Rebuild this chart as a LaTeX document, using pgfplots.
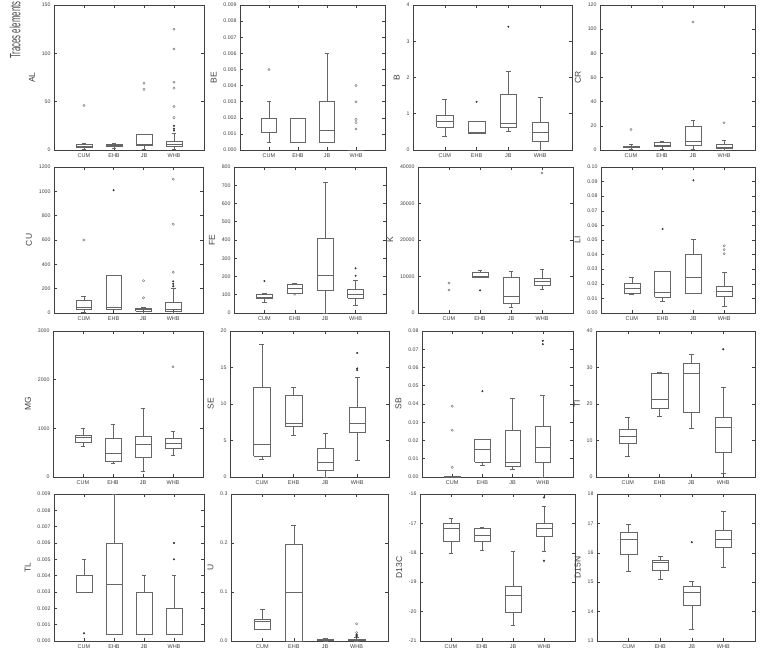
\documentclass[border=0pt]{standalone}
\usepackage{pgfplots}
\pgfplotsset{compat=1.18}
\usepackage{fontspec}
\setmainfont{Liberation Sans}
\definecolor{boxc}{gray}{0.4}
\definecolor{axc}{gray}{0.25}
\pgfplotsset{
  panel/.style={
    scale only axis, anchor=south west,
    xmin=0, xmax=5, xtick={1,2,3,4}, xticklabels={CUM,EHB,JB,WHB},
    axis line style={axc, line width=0.6pt},
    tick style={axc, line width=0.5pt},
    major tick length=3pt,
    tick align=inside,
    xticklabel style={font=\fontsize{5.5}{5.5}\selectfont, text=axc},
    yticklabel style={font=\fontsize{5.2}{5.2}\selectfont, text=axc},
    ylabel style={font=\fontsize{8.5}{8.5}\selectfont, text=axc},
    /pgf/number format/assume math mode=true,
    /pgf/number format/1000 sep={},
    scaled y ticks=false,
    clip=false,
  },
  boxst/.style={draw=boxc, line width=0.45pt, solid, mark=none},
  oo/.style={only marks, mark=o, mark size=1.15pt, mark options={draw=boxc, line width=0.35pt}},
  ss/.style={only marks, mark=*, mark size=0.8pt, mark options={fill=black!80, draw=black!80}},
}
% #1 position, #2 lower whisker, #3 lower quartile, #4 median, #5 upper quartile, #6 upper whisker
\newcommand\bp[6]{%
\pgfmathsetmacro\xa{#1-0.26}\pgfmathsetmacro\xb{#1+0.26}%
\pgfmathsetmacro\ca{#1-0.08}\pgfmathsetmacro\cb{#1+0.08}%
\addplot[boxst] coordinates {(\xa,#3) (\xb,#3) (\xb,#5) (\xa,#5) (\xa,#3)};
\addplot[boxst] coordinates {(\xa,#4) (\xb,#4)};
\addplot[boxst] coordinates {(#1,#3) (#1,#2)};
\addplot[boxst] coordinates {(#1,#5) (#1,#6)};
\addplot[boxst] coordinates {(\ca,#2) (\cb,#2)};
\addplot[boxst] coordinates {(\ca,#6) (\cb,#6)};
}
\begin{document}
\begin{tikzpicture}[x=1pt,y=1pt]
\useasboundingbox (0,0) rectangle (765,663);
\node[rotate=90, anchor=west, inner sep=0, text=black!70] at (15,604) {\scalebox{0.52}[1]{\fontsize{15}{15}\selectfont Traces elements}};
% ---------- Row 1 ----------
\begin{axis}[panel, at={(54pt,513pt)}, width=150pt, height=145pt, ymin=0, ymax=150, ytick={0,50,100,150}, ylabel={AL}]
\bp{1}{1}{3}{4}{5.5}{7}
\bp{2}{2}{3.5}{5}{6.2}{7}
\bp{3}{1}{4.8}{6}{16}{16}
\bp{4}{0.5}{4}{6}{9}{17}
\addplot[oo] coordinates {(1,46) (3,62.7) (3,69) (4,33.5) (4,45) (4,64) (4,70) (4,104.5) (4,125)};
\addplot[ss] coordinates {(4,20) (4,22) (4,25)};
\end{axis}
% BE values plotted in units of 0.001
\begin{axis}[panel, at={(240pt,513pt)}, width=145pt, height=145pt, ymin=0, ymax=9, ytick={0,1,2,3,4,5,6,7,8,9}, yticklabels={0.000,0.001,0.002,0.003,0.004,0.005,0.006,0.007,0.008,0.009}, ylabel={BE}]
\bp{1}{0.5}{1.1}{1.1}{2}{3}
\bp{2}{0.5}{0.5}{2}{2}{2}
\bp{3}{0.5}{0.5}{1.25}{3}{6}
\bp{4}{0}{0}{0}{0}{0}
\addplot[oo] coordinates {(1,5) (4,4) (4,3) (4,1.9) (4,1.7) (4,1.3)};
\end{axis}
\begin{axis}[panel, at={(413pt,513pt)}, width=159pt, height=145pt, ymin=0, ymax=4, ytick={0,1,2,3,4}, ylabel={B}]
\bp{1}{0.39}{0.63}{0.8}{0.97}{1.4}
\bp{2}{0.45}{0.47}{0.48}{0.78}{0.78}
\bp{3}{0.52}{0.62}{0.75}{1.53}{2.18}
\bp{4}{0}{0.25}{0.5}{0.77}{1.45}
\addplot[ss] coordinates {(2,1.33) (3,3.4)};
\end{axis}
\begin{axis}[panel, at={(600pt,513pt)}, width=155pt, height=145pt, ymin=0, ymax=120, ytick={0,20,40,60,80,100,120}, ylabel={CR}]
\bp{1}{1}{2}{3}{3}{5}
\bp{2}{0.5}{3.3}{4}{6.6}{7.4}
\bp{3}{1}{4}{7}{20}{25}
\bp{4}{0}{1.4}{2.5}{4.4}{8.3}
\addplot[oo] coordinates {(1,17) (3,106) (4,22.6)};
\end{axis}
% ---------- Row 2 ----------
\begin{axis}[panel, at={(54pt,350pt)}, width=149pt, height=146pt, ymin=0, ymax=1200, ytick={0,200,400,600,800,1000,1200}, ylabel={CU}]
\bp{1}{5}{35}{50}{104}{136}
\bp{2}{30}{35}{46}{314}{314}
\bp{3}{0}{14}{27}{41}{50}
\bp{4}{0}{14}{33}{87}{205}
\addplot[oo] coordinates {(1,600) (3,265) (3,125) (4,335) (4,730) (4,1099)};
\addplot[ss] coordinates {(2,1009) (4,220) (4,240) (4,260)};
\end{axis}
\begin{axis}[panel, at={(234pt,350pt)}, width=152pt, height=146pt, ymin=0, ymax=800, ytick={0,100,200,300,400,500,600,700,800}, ylabel={FE}]
\bp{1}{57}{79}{88}{101}{107}
\bp{2}{110}{110}{134}{158}{164}
\bp{3}{0}{127}{208}{408}{717}
\bp{4}{42}{83}{103}{130}{180}
\addplot[oo] coordinates {(2,103)};
\addplot[ss] coordinates {(1,175) (4,204) (4,245)};
\end{axis}
\begin{axis}[panel, at={(418pt,350pt)}, width=155pt, height=146pt, ymin=0, ymax=40000, ytick={0,10000,20000,30000,40000}, ylabel={K}]
\bp{2}{9770}{9770}{10050}{11140}{11600}
\bp{3}{1460}{2740}{4570}{9770}{11400}
\bp{4}{6390}{7490}{8580}{9590}{11870}
\addplot[oo] coordinates {(1,8220) (1,6300) (4,38350)};
\addplot[ss] coordinates {(2,6210)};
\end{axis}
% LI values plotted in units of 0.01
\begin{axis}[panel, at={(601pt,350pt)}, width=154pt, height=146pt, ymin=0, ymax=10, ytick={0,1,2,3,4,5,6,7,8,9,10}, yticklabels={0.00,0.01,0.02,0.03,0.04,0.05,0.06,0.07,0.08,0.09,0.10}, ylabel={LI}]
\bp{1}{1.3}{1.37}{1.69}{2.05}{2.47}
\bp{2}{0.8}{1.07}{1.44}{2.85}{2.85}
\bp{3}{1.32}{1.32}{2.44}{4.04}{5.07}
\bp{4}{0.46}{1.14}{1.46}{1.83}{2.8}
\addplot[oo] coordinates {(4,4.6) (4,4.34) (4,4.06)};
\addplot[ss] coordinates {(2,5.75) (3,9.09)};
\end{axis}
% ---------- Row 3 ----------
\begin{axis}[panel, at={(53pt,186pt)}, width=150pt, height=146pt, ymin=0, ymax=3000, ytick={0,1000,2000,3000}, ylabel={MG}]
\bp{1}{638}{720}{810}{858}{1002}
\bp{2}{288}{330}{494}{790}{1078}
\bp{3}{124}{412}{673}{837}{1407}
\bp{4}{446}{597}{700}{790}{947}
\addplot[oo] coordinates {(4,2265)};
\end{axis}
\begin{axis}[panel, at={(230pt,186pt)}, width=159pt, height=146pt, ymin=0, ymax=20, ytick={0,5,10,15,20}, ylabel={SE}]
\bp{1}{2.47}{2.84}{4.48}{12.36}{18.2}
\bp{2}{5.67}{6.96}{7.32}{11.2}{12.27}
\bp{3}{0}{0.92}{1.97}{3.98}{6.04}
\bp{4}{2.24}{6.18}{7.41}{9.52}{13.73}
\addplot[ss] coordinates {(4,14.65) (4,14.87) (4,17.0)};
\end{axis}
% SB values plotted in units of 0.01
\begin{axis}[panel, at={(422pt,186pt)}, width=151pt, height=146pt, ymin=0, ymax=8, ytick={0,1,2,3,4,5,6,7,8}, yticklabels={0.00,0.01,0.02,0.03,0.04,0.05,0.06,0.07,0.08}, ylabel={SB}]
\bp{1}{0}{0}{0}{0.05}{0.05}
\bp{2}{0.66}{0.83}{1.53}{2.08}{2.08}
\bp{3}{0.42}{0.57}{0.83}{2.57}{4.32}
\bp{4}{0}{0.83}{1.62}{2.76}{4.5}
\addplot[oo] coordinates {(1,0.53) (1,2.56) (1,3.88)};
\addplot[ss] coordinates {(2,4.7) (4,7.28) (4,7.46)};
\end{axis}
\begin{axis}[panel, at={(596pt,186pt)}, width=159pt, height=146pt, ymin=0, ymax=40, ytick={0,10,20,30,40}, ylabel={TI}]
\bp{1}{5.7}{9.15}{11.3}{13.1}{16.5}
\bp{2}{16.7}{18.75}{21.4}{28.4}{28.8}
\bp{3}{13.3}{17.75}{28.5}{31.1}{33.5}
\bp{4}{1.1}{6.9}{13.7}{16.5}{24.7}
\addplot[ss] coordinates {(4,35)};
\end{axis}
% ---------- Row 4 ----------
% TL values plotted in units of 0.001
\begin{axis}[panel, at={(54pt,22pt)}, width=150pt, height=147pt, ymin=0, ymax=9, ytick={0,1,2,3,4,5,6,7,8,9}, yticklabels={0.000,0.001,0.002,0.003,0.004,0.005,0.006,0.007,0.008,0.009}, ylabel={TL}]
\bp{1}{3}{3}{3}{4}{5}
\bp{2}{0.4}{0.4}{3.5}{6}{9}
\bp{3}{0.4}{0.4}{0.4}{3}{4}
\bp{4}{0.4}{0.4}{0.4}{2}{4}
\addplot[ss] coordinates {(1,0.47) (4,5) (4,6)};
\end{axis}
% U values plotted in units of 0.01
\begin{axis}[panel, at={(231pt,22pt)}, width=157pt, height=147pt, ymin=0, ymax=30, ytick={0,10,20,30}, yticklabels={0.0,0.1,0.2,0.3}, ylabel={U}]
\bp{1}{2.45}{2.45}{4.1}{4.43}{6.5}
\bp{2}{0}{0}{9.9}{19.8}{23.6}
\bp{3}{0}{0.1}{0.2}{0.3}{0.5}
\bp{4}{0}{0.1}{0.2}{0.4}{0.7}
\addplot[oo] coordinates {(4,1.7) (4,3.5)};
\addplot[ss] coordinates {(4,0.9) (4,1.1) (4,1.3)};
\end{axis}
\begin{axis}[panel, at={(420pt,22pt)}, width=155pt, height=147pt, ymin=-21, ymax=-16, ytick={-21,-20,-19,-18,-17,-16}, ylabel={D13C}]
\bp{1}{-18.01}{-17.59}{-17.16}{-17.01}{-16.82}
\bp{2}{-17.9}{-17.61}{-17.41}{-17.16}{-17.12}
\bp{3}{-20.45}{-20.02}{-19.43}{-19.15}{-17.93}
\bp{4}{-17.95}{-17.44}{-17.16}{-16.99}{-16.42}
\addplot[ss] coordinates {(4,-18.27) (4,-16.12)};
\end{axis}
\begin{axis}[panel, at={(597pt,22pt)}, width=158pt, height=147pt, ymin=13, ymax=18, ytick={13,14,15,16,17,18}, ylabel={D15N}]
\bp{1}{15.39}{15.95}{16.47}{16.7}{16.98}
\bp{2}{15.1}{15.4}{15.68}{15.76}{15.87}
\bp{3}{13.4}{14.2}{14.66}{14.85}{15.02}
\bp{4}{15.51}{16.19}{16.47}{16.78}{17.41}
\addplot[ss] coordinates {(3,16.36)};
\end{axis}
\end{tikzpicture}
\end{document}
